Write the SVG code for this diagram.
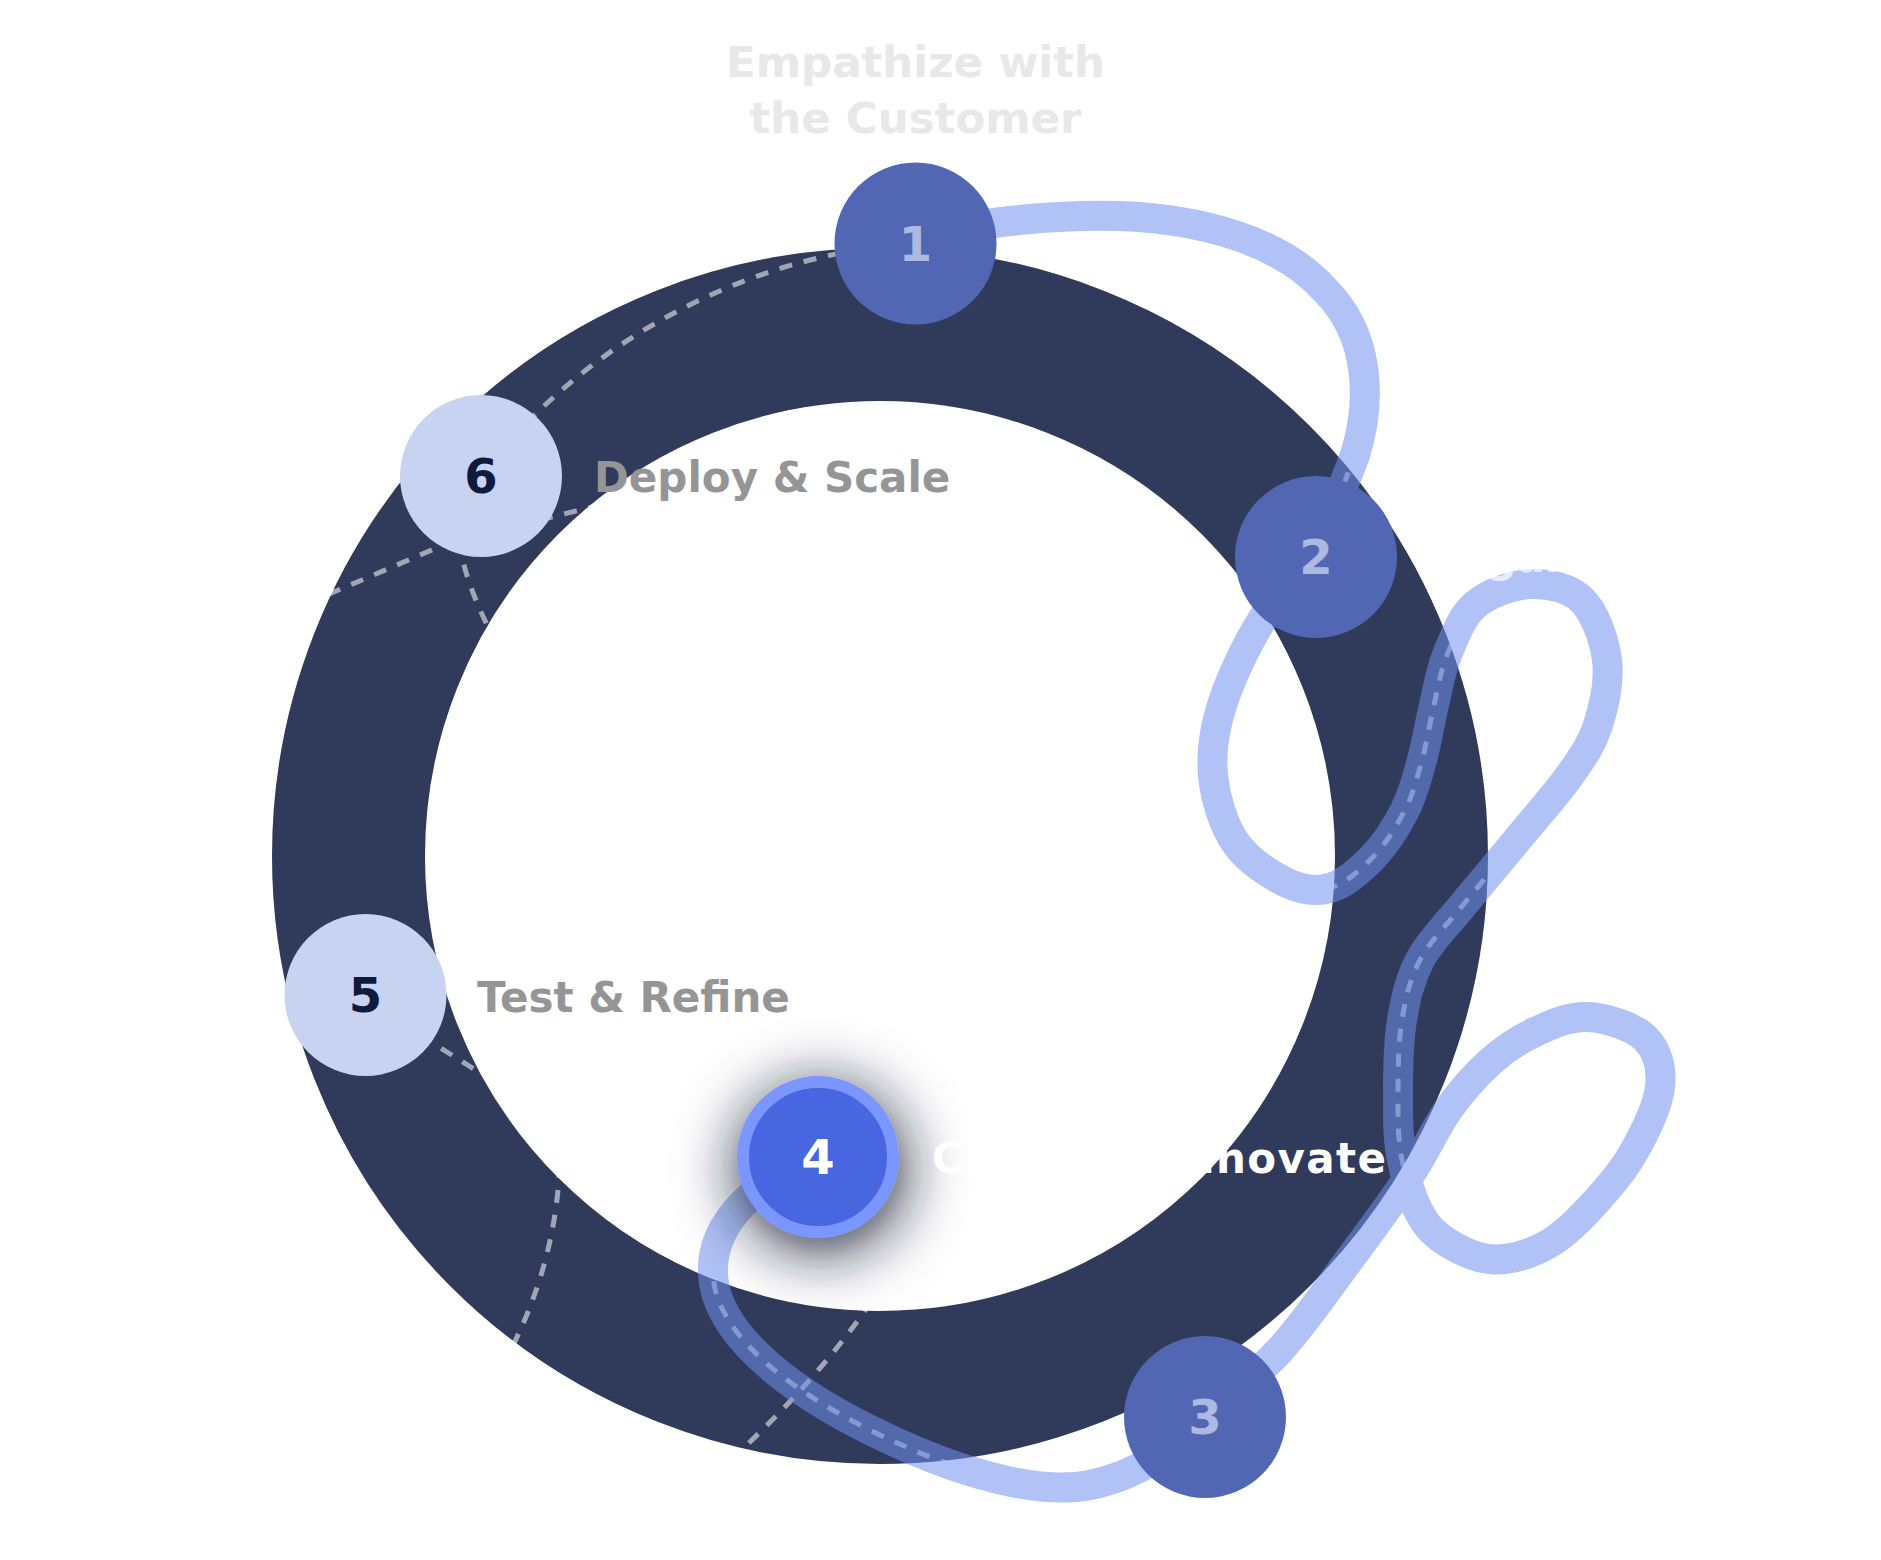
<svg xmlns="http://www.w3.org/2000/svg" width="1881" height="1560" viewBox="0 0 1881 1560">
<style>
.lbl{font-family:"DejaVu Sans","Liberation Sans",sans-serif;font-weight:700;font-size:42px}
.ttl{font-family:"DejaVu Sans","Liberation Sans",sans-serif;font-weight:700;font-size:43.5px;fill:#E8E8E8;text-anchor:middle}
.num{font-family:"DejaVu Sans","Liberation Sans",sans-serif;font-weight:700;font-size:48px;text-anchor:middle}
.dash{fill:none;stroke:#FFFFFF;stroke-opacity:.55;stroke-width:5;stroke-dasharray:13 12}
.flow{fill:none;stroke:#7090EE;stroke-opacity:.55;stroke-width:30}
.done{fill:#5267B4}
.done-n{fill:#AEB9E1}
.todo{fill:#C8D3F2}
.todo-n{fill:#0F1A3D}
.gray{fill:#959595}
</style>
<defs>
<filter id="glow" x="-100%" y="-100%" width="300%" height="300%">
<feDropShadow dx="3" dy="12" stdDeviation="32" flood-color="#141A36" flood-opacity="1"/>
</filter>
</defs>
<rect width="1881" height="1560" fill="#FFFFFF"/>
<circle id="ring" cx="880" cy="856" r="531.5" fill="none" stroke="#303A5B" stroke-width="153"/>
<g id="connectors">
<path class="dash" d="M915,244 C780,250 600,320 481,476"/>
<path class="dash" d="M455,540 L250,628"/>
<path class="dash" d="M460,540 Q462,580 500,650"/>
<path class="dash" d="M540,520 L640,495"/>
<path class="dash" d="M420,1035 L520,1098"/>
<path class="dash" d="M560,1140 Q562,1260 500,1370"/>
<path class="dash" d="M885,1280 Q830,1370 720,1470"/>
<path class="dash" d="M915,236 C1000,220 1060,214 1120,216 C1200,219 1280,240 1325,290 C1370,335 1372,400 1355,455 L1316,557"/>
<path class="dash" d="M1316,557 C1298,578 1277.7,595.3 1262,620 C1246.3,644.7 1230.2,679.2 1222,705 C1213.8,730.8 1210.8,752.2 1213,775 C1215.2,797.8 1223,824.2 1235,842 C1247,859.8 1269.2,874.3 1285,882 C1300.8,889.7 1315.3,892.2 1330,888 C1344.7,883.8 1360.5,870 1373,857 C1385.5,844 1396.8,826.2 1405,810 C1413.2,793.8 1417.2,777.5 1422,760 C1426.8,742.5 1429.8,722.5 1434,705 C1438.2,687.5 1440.2,671.7 1447,655 C1453.8,638.3 1461.2,616.8 1475,605 C1488.8,593.2 1512.2,584.8 1530,584 C1547.8,583.2 1569.2,587.3 1582,600 C1594.8,612.7 1604.3,639.2 1607,660 C1609.7,680.8 1604.2,705.8 1598,725 C1591.8,744.2 1583.5,755.8 1570,775 C1556.5,794.2 1534.8,818.3 1517,840 C1499.2,861.7 1479.2,885 1463,905 C1446.8,925 1430.2,940.8 1420,960 C1409.8,979.2 1405.7,997.8 1402,1020 C1398.3,1042.2 1398,1069.7 1398,1093 C1398,1116.3 1397.5,1138.5 1402,1160 C1406.5,1181.5 1414.5,1206.7 1425,1222 C1435.5,1237.3 1451.7,1245.8 1465,1252 C1478.3,1258.2 1490.8,1260.5 1505,1259 C1519.2,1257.5 1535.8,1251.5 1550,1243 C1564.2,1234.5 1576.3,1222.7 1590,1208 C1603.7,1193.3 1620.3,1175.2 1632,1155 C1643.7,1134.8 1657.8,1106.5 1660,1087 C1662.2,1067.5 1657,1049.7 1645,1038 C1633,1026.3 1606.3,1018 1588,1017 C1569.7,1016 1551.3,1024.5 1535,1032 C1518.7,1039.5 1504.5,1049 1490,1062 C1475.5,1075 1461.3,1091.2 1448,1110 C1434.7,1128.8 1426.5,1150 1410,1175 C1393.5,1200 1370.7,1230.8 1349,1260 C1327.3,1289.2 1304,1323.8 1280,1350 C1256,1376.2 1230,1394.7 1205,1417"/>
<path class="dash" d="M818,1157 C760,1180 710,1220 713,1275 C716,1330 780,1385 870,1430 C960,1475 1040,1495 1090,1485 C1140,1475 1180,1445 1205,1417"/>
<path class="flow" d="M915,236 C1000,220 1060,214 1120,216 C1200,219 1280,240 1325,290 C1370,335 1372,400 1355,455 L1316,557"/>
<path class="flow" d="M1316,557 C1298,578 1277.7,595.3 1262,620 C1246.3,644.7 1230.2,679.2 1222,705 C1213.8,730.8 1210.8,752.2 1213,775 C1215.2,797.8 1223,824.2 1235,842 C1247,859.8 1269.2,874.3 1285,882 C1300.8,889.7 1315.3,892.2 1330,888 C1344.7,883.8 1360.5,870 1373,857 C1385.5,844 1396.8,826.2 1405,810 C1413.2,793.8 1417.2,777.5 1422,760 C1426.8,742.5 1429.8,722.5 1434,705 C1438.2,687.5 1440.2,671.7 1447,655 C1453.8,638.3 1461.2,616.8 1475,605 C1488.8,593.2 1512.2,584.8 1530,584 C1547.8,583.2 1569.2,587.3 1582,600 C1594.8,612.7 1604.3,639.2 1607,660 C1609.7,680.8 1604.2,705.8 1598,725 C1591.8,744.2 1583.5,755.8 1570,775 C1556.5,794.2 1534.8,818.3 1517,840 C1499.2,861.7 1479.2,885 1463,905 C1446.8,925 1430.2,940.8 1420,960 C1409.8,979.2 1405.7,997.8 1402,1020 C1398.3,1042.2 1398,1069.7 1398,1093 C1398,1116.3 1397.5,1138.5 1402,1160 C1406.5,1181.5 1414.5,1206.7 1425,1222 C1435.5,1237.3 1451.7,1245.8 1465,1252 C1478.3,1258.2 1490.8,1260.5 1505,1259 C1519.2,1257.5 1535.8,1251.5 1550,1243 C1564.2,1234.5 1576.3,1222.7 1590,1208 C1603.7,1193.3 1620.3,1175.2 1632,1155 C1643.7,1134.8 1657.8,1106.5 1660,1087 C1662.2,1067.5 1657,1049.7 1645,1038 C1633,1026.3 1606.3,1018 1588,1017 C1569.7,1016 1551.3,1024.5 1535,1032 C1518.7,1039.5 1504.5,1049 1490,1062 C1475.5,1075 1461.3,1091.2 1448,1110 C1434.7,1128.8 1426.5,1150 1410,1175 C1393.5,1200 1370.7,1230.8 1349,1260 C1327.3,1289.2 1304,1323.8 1280,1350 C1256,1376.2 1230,1394.7 1205,1417"/>
<path class="flow" d="M818,1157 C760,1180 710,1220 713,1275 C716,1330 780,1385 870,1430 C960,1475 1040,1495 1090,1485 C1140,1475 1180,1445 1205,1417"/>
</g>
<g id="node-1">
<circle class="done" cx="915.5" cy="243.5" r="81"/>
<text class="num done-n" x="915.5" y="261">1</text>
<text class="ttl" x="915.5" y="77">Empathize with</text>
<text class="ttl" x="915.5" y="133">the Customer</text>
</g>
<g id="node-2">
<circle class="done" cx="1316" cy="557" r="81"/>
<text class="num done-n" x="1316" y="574">2</text>
<text class="lbl" x="1430" y="572" fill="#FFFFFF" fill-opacity="0.7">Organize Ideas</text>
</g>
<g id="node-3">
<circle class="done" cx="1205" cy="1417" r="81"/>
<text class="num done-n" x="1205" y="1434">3</text>
</g>
<g id="node-4">
<circle cx="818" cy="1157" r="75" fill="#4666E0" stroke="#7B96FF" stroke-width="12" filter="url(#glow)"/>
<text class="num" x="818" y="1174" fill="#FFFFFF">4</text>
<text class="lbl" x="932" y="1173" fill="#FFFFFF" textLength="454">Create &amp; Innovate</text>
</g>
<g id="node-5">
<circle class="todo" cx="365.5" cy="995" r="81"/>
<text class="num todo-n" x="365.5" y="1012">5</text>
<text class="lbl gray" x="477" y="1012">Test &amp; Refine</text>
</g>
<g id="node-6">
<circle class="todo" cx="481" cy="476" r="81"/>
<text class="num todo-n" x="481" y="493">6</text>
<text class="lbl gray" x="594" y="492">Deploy &amp; Scale</text>
</g>
</svg>
